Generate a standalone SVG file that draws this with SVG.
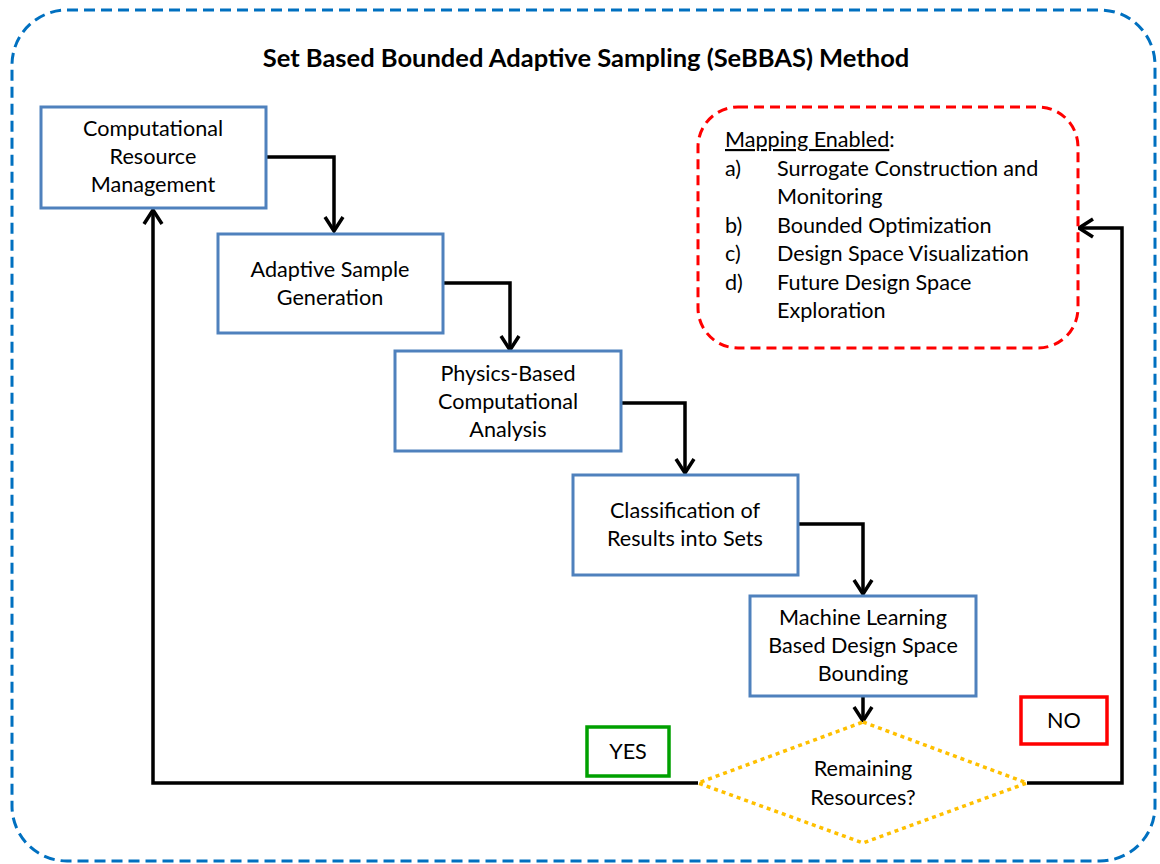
<svg xmlns="http://www.w3.org/2000/svg" width="1160" height="864" viewBox="0 0 1160 864">
<defs>
<style>
text{font-family:Lato,"Open Sans","Liberation Sans",sans-serif;font-size:21.6px;fill:#000}
.c{text-anchor:middle}
.box{fill:#fff;stroke:#4F81BD;stroke-width:3}
.conn{fill:none;stroke:#000;stroke-width:3.5;stroke-linejoin:miter}
</style>
<marker id="ah" viewBox="0 0 22 22" refX="19" refY="11" markerWidth="22" markerHeight="22" markerUnits="userSpaceOnUse" orient="auto">
<path d="M5,2 L19,11 L5,20" fill="none" stroke="#000" stroke-width="3.5"/>
</marker>
</defs>
<rect width="1160" height="864" fill="#fff"/>
<g id="frame">
<rect x="12" y="10" width="1143" height="851" rx="55" fill="none" stroke="#0070C0" stroke-width="3" stroke-dasharray="11,6"/>
<text x="586" y="67" class="c" style="font-weight:bold;font-size:25.5px">Set Based Bounded Adaptive Sampling (SeBBAS) Method</text>
</g>
<g id="connectors">
<polyline class="conn" points="266,157 334,157 334,231" marker-end="url(#ah)"/>
<polyline class="conn" points="443,283 510,283 510,350" marker-end="url(#ah)"/>
<polyline class="conn" points="621,403 685,403 685,473" marker-end="url(#ah)"/>
<polyline class="conn" points="798,524 863,524 863,594" marker-end="url(#ah)"/>
<polyline class="conn" points="863,696 863,721" marker-end="url(#ah)"/>
<polyline class="conn" points="698,783 153,783 153,210" marker-end="url(#ah)"/>
<polyline class="conn" points="1027,783 1122,783 1122,228 1079,228" marker-end="url(#ah)"/>
</g>
<g id="n1">
<rect class="box" x="41" y="107" width="225" height="101"/>
<text class="c" x="153" y="136">Computational</text>
<text class="c" x="153" y="164">Resource</text>
<text class="c" x="153" y="192">Management</text>
</g>
<g id="n2">
<rect class="box" x="218" y="234" width="225" height="99"/>
<text class="c" x="330" y="277">Adaptive Sample</text>
<text class="c" x="330" y="305">Generation</text>
</g>
<g id="n3">
<rect class="box" x="395" y="351" width="226" height="100"/>
<text class="c" x="508" y="381">Physics-Based</text>
<text class="c" x="508" y="409">Computational</text>
<text class="c" x="508" y="437">Analysis</text>
</g>
<g id="n4">
<rect class="box" x="573" y="475" width="225" height="100"/>
<text class="c" x="685" y="518">Classification of</text>
<text class="c" x="685" y="546">Results into Sets</text>
</g>
<g id="n5">
<rect class="box" x="750" y="596" width="226" height="100"/>
<text class="c" x="863" y="625">Machine Learning</text>
<text class="c" x="863" y="653">Based Design Space</text>
<text class="c" x="863" y="681">Bounding</text>
</g>
<g id="mapping">
<rect x="698" y="107" width="380" height="241" rx="40" fill="#fff" stroke="#FF0000" stroke-width="3" stroke-dasharray="10,6"/>
<text x="725" y="147"><tspan text-decoration="underline">Mapping Enabled</tspan>:</text>
<text x="725" y="176">a)</text><text x="777" y="176">Surrogate Construction and</text>
<text x="777" y="204">Monitoring</text>
<text x="725" y="233">b)</text><text x="777" y="233">Bounded Optimization</text>
<text x="725" y="261">c)</text><text x="777" y="261">Design Space Visualization</text>
<text x="725" y="290">d)</text><text x="777" y="290">Future Design Space</text>
<text x="777" y="318">Exploration</text>
</g>
<g id="decision">
<polygon points="863,722 1027,783 863,843 698,783" fill="#fff" stroke="#FFC000" stroke-width="3.5" stroke-dasharray="4,4"/>
<text class="c" x="863" y="776">Remaining</text>
<text class="c" x="863" y="805">Resources?</text>
</g>
<g id="yes">
<rect x="587" y="727" width="82" height="49" fill="#fff" stroke="#00A000" stroke-width="3.5"/>
<text class="c" x="628" y="759">YES</text>
</g>
<g id="no">
<rect x="1021" y="697" width="86" height="47" fill="#fff" stroke="#FF0000" stroke-width="3.5"/>
<text class="c" x="1064" y="728">NO</text>
</g>
</svg>
